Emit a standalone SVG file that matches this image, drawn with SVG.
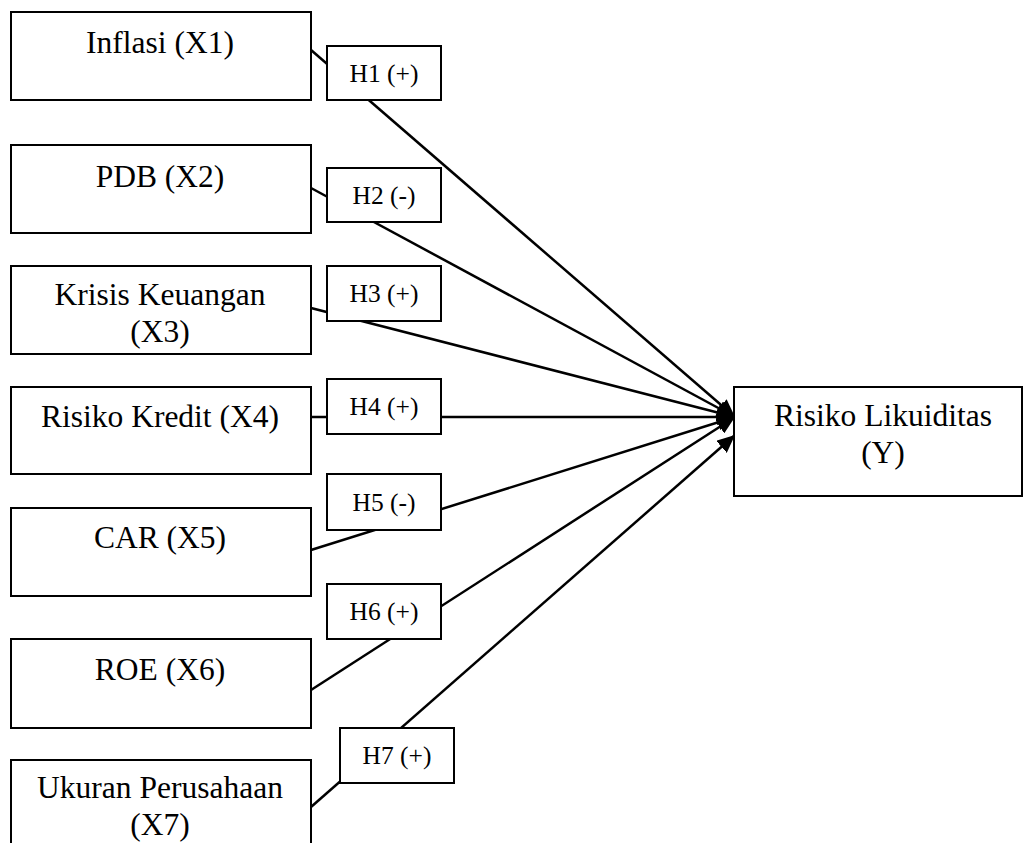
<svg xmlns="http://www.w3.org/2000/svg" width="1024" height="843" viewBox="0 0 1024 843">
<style>
.box{fill:#fff;stroke:#000;stroke-width:2}
.t{font-family:"Liberation Serif","Times New Roman",serif;font-size:31.5px;fill:#000;text-anchor:middle}
.h{font-family:"Liberation Serif","Times New Roman",serif;font-size:25.5px;fill:#000;text-anchor:middle}
.c{stroke:#000;stroke-width:2.5;fill:none;marker-end:url(#ah)}
</style>
<defs>
<marker id="ah" markerUnits="userSpaceOnUse" markerWidth="20" markerHeight="16" refX="18" refY="8" orient="auto">
<path d="M0,0 L18,8 L0,16 z" fill="#000"/>
</marker>
</defs>
<rect width="1024" height="843" fill="#fff"/>
<g id="connectors">
<line class="c" x1="311" y1="50" x2="735" y2="417"/>
<line class="c" x1="311" y1="188" x2="735" y2="417"/>
<line class="c" x1="311" y1="308" x2="735" y2="417"/>
<line class="c" x1="311" y1="417" x2="735" y2="417"/>
<line class="c" x1="311" y1="550" x2="735" y2="417"/>
<line class="c" x1="311" y1="690" x2="735" y2="417"/>
<line class="c" x1="311" y1="807" x2="735" y2="435"/>
</g>
<g id="x1"><rect class="box" x="11" y="12" width="300" height="88"/><text class="t" x="160" y="53">Inflasi (X1)</text></g>
<g id="x2"><rect class="box" x="11" y="145" width="300" height="88"/><text class="t" x="160" y="187">PDB (X2)</text></g>
<g id="x3"><rect class="box" x="11" y="266" width="300" height="88"/><text class="t" x="160" y="305">Krisis Keuangan</text><text class="t" x="160" y="342">(X3)</text></g>
<g id="x4"><rect class="box" x="11" y="387" width="300" height="87"/><text class="t" x="160" y="427">Risiko Kredit (X4)</text></g>
<g id="x5"><rect class="box" x="11" y="508" width="300" height="88"/><text class="t" x="160" y="548">CAR (X5)</text></g>
<g id="x6"><rect class="box" x="11" y="639" width="300" height="89"/><text class="t" x="160" y="680">ROE (X6)</text></g>
<g id="x7"><rect class="box" x="11" y="760" width="300" height="100"/><text class="t" x="160" y="798">Ukuran Perusahaan</text><text class="t" x="160" y="835">(X7)</text></g>
<g id="y"><rect class="box" x="734" y="387" width="288" height="109"/><text class="t" x="883" y="426">Risiko Likuiditas</text><text class="t" x="883" y="463">(Y)</text></g>
<g id="h1"><rect class="box" x="327" y="46" width="114" height="54"/><text class="h" x="384" y="82">H1 (+)</text></g>
<g id="h2"><rect class="box" x="327" y="168" width="114" height="54"/><text class="h" x="384" y="204">H2 (-)</text></g>
<g id="h3"><rect class="box" x="327" y="266" width="114" height="55"/><text class="h" x="384" y="302">H3 (+)</text></g>
<g id="h4"><rect class="box" x="327" y="379" width="114" height="55"/><text class="h" x="384" y="415">H4 (+)</text></g>
<g id="h5"><rect class="box" x="327" y="474" width="114" height="56"/><text class="h" x="384" y="511">H5 (-)</text></g>
<g id="h6"><rect class="box" x="327" y="584" width="114" height="55"/><text class="h" x="384" y="620">H6 (+)</text></g>
<g id="h7"><rect class="box" x="340" y="728" width="114" height="55"/><text class="h" x="397" y="764">H7 (+)</text></g>
</svg>
